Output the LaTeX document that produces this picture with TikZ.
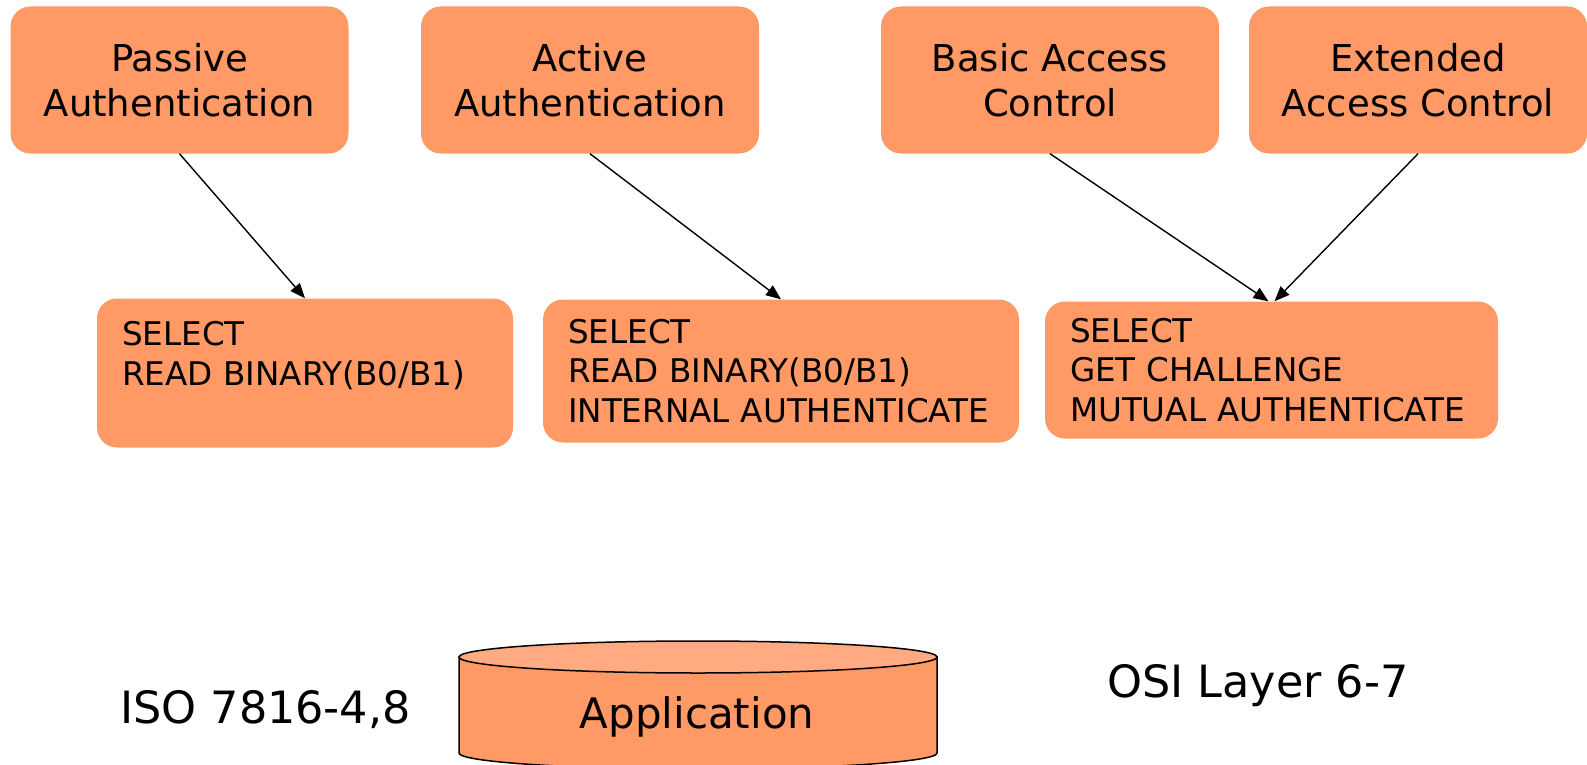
\documentclass[tikz,border=0pt]{standalone}
\usepackage{fontspec}
\setmainfont{DejaVu Sans}
\usetikzlibrary{arrows.meta,positioning}
\definecolor{boxfill}{HTML}{FF9966}
\definecolor{capfill}{HTML}{FFAA80}
\tikzset{
  sec/mechanism/.style={fill=boxfill, rounded corners=20pt, minimum width=338pt, minimum height=147pt, align=center, inner sep=0pt, font=\fontsize{37}{45}\selectfont},
  sec/apdu/.style={fill=boxfill, rounded corners=20pt, inner xsep=25pt, inner ysep=0pt, align=left, font=\fontsize{32.6}{39.5}\selectfont},
  sec/flow/.style={line width=1.4pt, -{Triangle[length=15pt,width=12pt]}},
  sec/layer/.style={inner sep=0pt, anchor=base west, font=\fontsize{44.5}{50}\selectfont}
}

\begin{document}
\begin{tikzpicture}[x=1pt, y=-1pt]
\useasboundingbox (0,0) rectangle (1587,765);
\clip (0,0) rectangle (1587,765);

% security mechanisms
\node[sec/mechanism] (pa)  at (179.5,80) {Passive\\Authentication};
\node[sec/mechanism] (aa)  at (590,80)   {Active\\Authentication};
\node[sec/mechanism] (bac) at (1050,80)  {Basic Access\\Control};
\node[sec/mechanism] (eac) at (1418,80)  {Extended\\Access Control};

% APDU commands
\node[sec/apdu, text width=366pt, minimum height=149pt] (cmdpa)  at (305,373) {SELECT\\READ BINARY(B0/B1)\\~};
\node[sec/apdu, text width=426pt, minimum height=143pt] (cmdaa)  at (781,371) {SELECT\\READ BINARY(B0/B1)\\INTERNAL AUTHENTICATE};
\node[sec/apdu, text width=403pt, minimum height=137pt] (cmdbac) at (1271.5,370) {SELECT\\GET CHALLENGE\\MUTUAL AUTHENTICATE};

\draw[sec/flow] (pa.south) -- (cmdpa.north);
\draw[sec/flow] (aa.south) -- (cmdaa.north);
\draw[sec/flow] (bac.south) -- ([xshift=-3pt]cmdbac.north);
\draw[sec/flow] (eac.south) -- ([xshift=3pt]cmdbac.north);

% application layer
\filldraw[fill=boxfill, line width=1.5pt] (459,657) -- (459,753)
  arc[start angle=180, end angle=0, x radius=239, y radius=16] -- (937,657) -- cycle;
\filldraw[fill=capfill, line width=1.5pt] (698,657) ellipse[x radius=239, y radius=16];
\node[inner sep=0pt, anchor=base, font=\fontsize{42}{50}\selectfont] (app) at (697,728) {Application};

\node[sec/layer] (iso) at (120,723) {ISO 7816-4,8};
\node[sec/layer] (osi) at (1107,697) {OSI Layer 6-7};
\end{tikzpicture}
\end{document}
